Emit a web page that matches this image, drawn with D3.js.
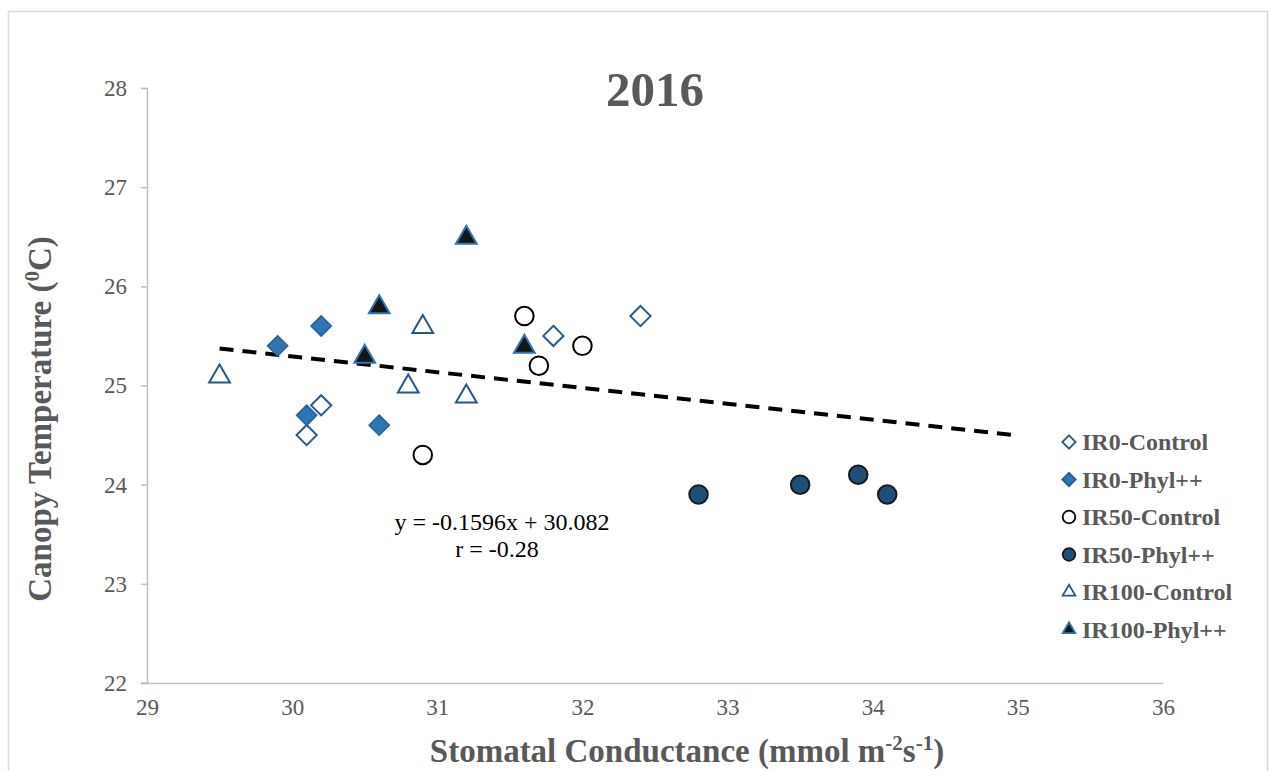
<!DOCTYPE html>
<html>
<head>
<meta charset="utf-8">
<script src="https://cdn.jsdelivr.net/npm/d3@7"></script>
<style>
  html, body { margin: 0; padding: 0; background: #fff; }
  svg { display: block; }
  text { font-family: "Liberation Serif", "Times New Roman", serif; }
</style>
</head>
<body>
<svg id="chart" width="1270" height="771"></svg>
<script>
// Stomatal conductance (x) vs canopy temperature (y), 2016
const seriesNames = ["IR0-Control", "IR0-Phyl++", "IR50-Control", "IR50-Phyl++", "IR100-Control", "IR100-Phyl++"];

const ir0ControlX = [30.1, 30.2, 31.8, 32.4];
const ir0ControlY = [24.5, 24.8, 25.5, 25.7];

const ir0PhylX = [29.9, 30.2, 30.1, 30.6];
const ir0PhylY = [25.4, 25.6, 24.7, 24.6];

const ir50ControlX = [31.6, 31.7, 32.0, 30.9];
const ir50ControlY = [25.7, 25.2, 25.4, 24.3];

const ir50PhylX = [32.8, 33.5, 33.9, 34.1];
const ir50PhylY = [23.9, 24.0, 24.1, 23.9];

const ir100ControlX = [29.5, 30.9, 30.8, 31.2];
const ir100ControlY = [25.1, 25.6, 25.0, 24.9];

const ir100PhylX = [31.2, 30.6, 30.5, 31.6];
const ir100PhylY = [26.5, 25.8, 25.3, 25.4];

const xTicks = [29, 30, 31, 32, 33, 34, 35, 36];
const yTicks = [22, 23, 24, 25, 26, 27, 28];

// Linear trend: y = slope * x + intercept, drawn over [trendFrom, trendTo]
const slope = -0.1596;
const intercept = 30.082;
const trendFrom = 29.5;
const trendTo = 35;
const rValue = "-0.28";

const svg = d3.select("#chart");

// Chart area frame
svg.append("rect")
  .attr("x", 8.5).attr("y", 11.5)
  .attr("width", 1259).attr("height", 780)
  .attr("fill", "#fff").attr("stroke", "#d9d9d9").attr("stroke-width", 1.5);

const plot = { left: 147, right: 1163, top: 88, bottom: 683 };

const x = d3.scaleLinear().domain([29, 36]).range([plot.left, plot.right]);
const y = d3.scaleLinear().domain([22, 28]).range([plot.bottom, plot.top]);

const axisColor = "#bfbfbf";
const textColor = "#595959";

// Y axis with outward ticks
const yAxis = svg.append("g")
  .attr("transform", `translate(${plot.left},0)`)
  .call(d3.axisLeft(y).tickValues(yTicks).tickSize(6).tickPadding(14).tickFormat(d3.format("d")));
yAxis.select(".domain").attr("stroke", axisColor).attr("stroke-width", 1.5);
yAxis.selectAll(".tick line").attr("stroke", axisColor).attr("stroke-width", 1.5);
yAxis.selectAll(".tick text")
  .attr("fill", textColor).attr("font-size", 23)
  .attr("font-family", "Liberation Serif, serif");

// X axis: line only, labels beneath
const xAxis = svg.append("g")
  .attr("transform", `translate(0,${plot.bottom})`)
  .call(d3.axisBottom(x).tickValues(xTicks).tickSize(0).tickPadding(16).tickFormat(d3.format("d")));
xAxis.select(".domain").attr("stroke", axisColor).attr("stroke-width", 1.5);
xAxis.selectAll(".tick text")
  .attr("fill", textColor).attr("font-size", 23)
  .attr("font-family", "Liberation Serif, serif");
// extend baseline left to meet the y tick
svg.append("line")
  .attr("x1", plot.left - 6).attr("x2", plot.left)
  .attr("y1", plot.bottom).attr("y2", plot.bottom)
  .attr("stroke", axisColor).attr("stroke-width", 1.5);

// Title
svg.append("text")
  .attr("x", 655).attr("y", 106)
  .attr("text-anchor", "middle")
  .attr("font-size", 49).attr("font-weight", "bold")
  .attr("fill", textColor)
  .text("2016");

// Axis titles
const xTitle = svg.append("text")
  .attr("x", 687).attr("y", 762)
  .attr("text-anchor", "middle")
  .attr("font-size", 33).attr("font-weight", "bold")
  .attr("fill", textColor);
xTitle.append("tspan").text("Stomatal Conductance (mmol m");
xTitle.append("tspan").attr("baseline-shift", "super").attr("font-size", 21).text("-2");
xTitle.append("tspan").text("s");
xTitle.append("tspan").attr("baseline-shift", "super").attr("font-size", 21).text("-1");
xTitle.append("tspan").text(")");

const yTitle = svg.append("text")
  .attr("transform", "translate(51,419) rotate(-90)")
  .attr("text-anchor", "middle")
  .attr("font-size", 33).attr("font-weight", "bold")
  .attr("fill", textColor);
yTitle.append("tspan").text("Canopy Temperature (");
yTitle.append("tspan").attr("baseline-shift", "super").attr("font-size", 21).text("0");
yTitle.append("tspan").text("C)");

// Trend line
svg.append("line")
  .attr("x1", x(trendFrom)).attr("y1", y(slope * trendFrom + intercept))
  .attr("x2", x(trendTo)).attr("y2", y(slope * trendTo + intercept))
  .attr("stroke", "#000").attr("stroke-width", 4)
  .attr("stroke-dasharray", "14,9");

// Equation
svg.append("text")
  .attr("x", 502).attr("y", 530)
  .attr("text-anchor", "middle")
  .attr("font-size", 24).attr("fill", "#000")
  .text(`y = ${slope}x + ${intercept.toFixed(3)}`);
svg.append("text")
  .attr("x", 497).attr("y", 557)
  .attr("text-anchor", "middle")
  .attr("font-size", 24).attr("fill", "#000")
  .text(`r = ${rValue}`);

// Marker styles per series
const styles = [
  { shape: d3.symbolDiamond2, fill: "#ffffff", stroke: "#2a5a88", sw: 2 },
  { shape: d3.symbolDiamond2, fill: "#2e75b6", stroke: "#2a5f8f", sw: 1.5 },
  { shape: d3.symbolCircle, fill: "#ffffff", stroke: "#000000", sw: 2 },
  { shape: d3.symbolCircle, fill: "#1f4e79", stroke: "#1a1a1a", sw: 2 },
  { shape: d3.symbolTriangle2, fill: "#ffffff", stroke: "#24578a", sw: 2 },
  { shape: d3.symbolTriangle2, fill: "#151515", stroke: "#2e75b6", sw: 2 }
];
const sizes = [260, 260, 270, 270, 310, 310];
const legendSizes = [115, 115, 125, 125, 115, 115];

const seriesX = [ir0ControlX, ir0PhylX, ir50ControlX, ir50PhylX, ir100ControlX, ir100PhylX];
const seriesY = [ir0ControlY, ir0PhylY, ir50ControlY, ir50PhylY, ir100ControlY, ir100PhylY];

const drawOrder = [4, 0, 1, 2, 3, 5];
drawOrder.forEach(i => {
  const st = styles[i];
  const pts = seriesX[i].map((v, k) => [v, seriesY[i][k]]);
  const sym = d3.symbol().type(st.shape).size(sizes[i]);
  svg.append("g").selectAll("path")
    .data(pts).join("path")
    .attr("transform", d => `translate(${x(d[0])},${y(d[1]) + (st.shape === d3.symbolTriangle2 ? 1 : 0)})`)
    .attr("d", sym)
    .attr("fill", st.fill)
    .attr("stroke", st.stroke)
    .attr("stroke-width", st.sw);
});

// Legend
const legend = svg.append("g");
seriesNames.forEach((name, i) => {
  const st = styles[i];
  const ly = 442 + i * 37.5;
  legend.append("path")
    .attr("transform", `translate(1069,${ly})`)
    .attr("d", d3.symbol().type(st.shape).size(legendSizes[i])())
    .attr("fill", st.fill).attr("stroke", st.stroke).attr("stroke-width", 1.8);
  legend.append("text")
    .attr("x", 1082).attr("y", ly + 8)
    .attr("font-size", 24).attr("font-weight", "bold")
    .attr("fill", textColor)
    .text(name);
});
</script>
</body>
</html>
